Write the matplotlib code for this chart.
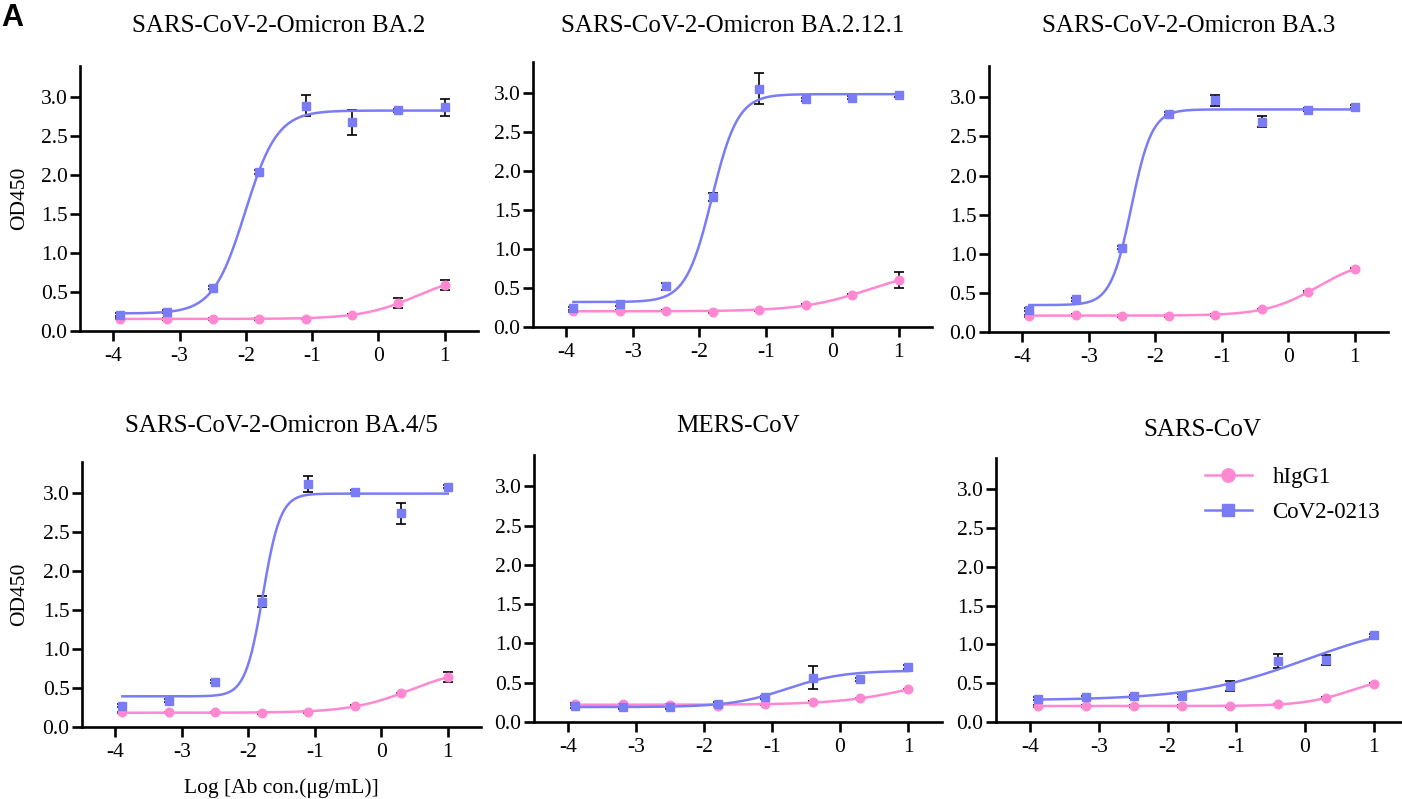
import numpy as np
import matplotlib
matplotlib.use("Agg")
import matplotlib.pyplot as plt

plt.rcParams["font.family"] = ["Liberation Serif", "DejaVu Serif"]
plt.rcParams["axes.unicode_minus"] = False

# log10 antibody concentration (ug/mL), 5-fold dilutions from 10 ug/mL
log_conc = [-3.893, -3.194, -2.495, -1.796, -1.097, -0.398, 0.301, 1.0]

panel_titles = [
    "SARS-CoV-2-Omicron BA.2",
    "SARS-CoV-2-Omicron BA.2.12.1",
    "SARS-CoV-2-Omicron BA.3",
    "SARS-CoV-2-Omicron BA.4/5",
    "MERS-CoV",
    "SARS-CoV",
]

# OD450 means for the CoV2-0213 antibody
cov2_ba2 = [0.21, 0.25, 0.555, 2.04, 2.89, 2.68, 2.83, 2.87]
cov2_ba2121 = [0.243, 0.295, 0.52, 1.67, 3.06, 2.92, 2.94, 2.975]
cov2_ba3 = [0.285, 0.417, 1.08, 2.79, 2.96, 2.69, 2.84, 2.88]
cov2_ba45 = [0.272, 0.34, 0.583, 1.61, 3.12, 3.02, 2.74, 3.085]
cov2_mers = [0.20, 0.19, 0.19, 0.233, 0.317, 0.563, 0.546, 0.70]
cov2_sars = [0.30, 0.32, 0.33, 0.336, 0.46, 0.79, 0.80, 1.115]

# SEM for the CoV2-0213 antibody
cov2_ba2_err = [0.02, 0.02, 0.02, 0.02, 0.135, 0.16, 0.02, 0.11]
cov2_ba2121_err = [0.02, 0.02, 0.05, 0.05, 0.20, 0.02, 0.02, 0.02]
cov2_ba3_err = [0.02, 0.02, 0.02, 0.02, 0.07, 0.065, 0.02, 0.02]
cov2_ba45_err = [0.02, 0.02, 0.02, 0.065, 0.105, 0.02, 0.14, 0.02]
cov2_mers_err = [0.02, 0.02, 0.02, 0.02, 0.02, 0.145, 0.02, 0.02]
cov2_sars_err = [0.02, 0.02, 0.02, 0.02, 0.065, 0.09, 0.065, 0.02]

# OD450 means for the hIgG1 isotype control
higg_ba2 = [0.16, 0.155, 0.155, 0.155, 0.16, 0.21, 0.355, 0.59]
higg_ba2121 = [0.20, 0.21, 0.21, 0.196, 0.213, 0.286, 0.41, 0.60]
higg_ba3 = [0.208, 0.22, 0.208, 0.208, 0.217, 0.289, 0.51, 0.807]
higg_ba45 = [0.187, 0.187, 0.187, 0.18, 0.196, 0.268, 0.43, 0.64]
higg_mers = [0.229, 0.224, 0.22, 0.21, 0.224, 0.254, 0.30, 0.415]
higg_sars = [0.207, 0.207, 0.207, 0.207, 0.202, 0.228, 0.31, 0.495]

# SEM for the hIgG1 isotype control
higg_ba2_err = [0.01, 0.01, 0.01, 0.01, 0.01, 0.01, 0.065, 0.065]
higg_ba2121_err = [0.01, 0.01, 0.01, 0.01, 0.01, 0.01, 0.01, 0.10]
higg_ba3_err = [0.01, 0.01, 0.01, 0.01, 0.01, 0.01, 0.01, 0.01]
higg_ba45_err = [0.01, 0.01, 0.01, 0.01, 0.01, 0.01, 0.01, 0.06]
higg_mers_err = [0.01, 0.01, 0.01, 0.01, 0.01, 0.01, 0.01, 0.01]
higg_sars_err = [0.01, 0.01, 0.01, 0.01, 0.01, 0.01, 0.01, 0.01]

series_names = ["hIgG1", "CoV2-0213"]
x_ticks = [-4, -3, -2, -1, 0, 1]
y_ticks = [0.0, 0.5, 1.0, 1.5, 2.0, 2.5, 3.0]

cov2_means = [cov2_ba2, cov2_ba2121, cov2_ba3, cov2_ba45, cov2_mers, cov2_sars]
cov2_errs = [cov2_ba2_err, cov2_ba2121_err, cov2_ba3_err, cov2_ba45_err,
             cov2_mers_err, cov2_sars_err]
higg_means = [higg_ba2, higg_ba2121, higg_ba3, higg_ba45, higg_mers, higg_sars]
higg_errs = [higg_ba2_err, higg_ba2121_err, higg_ba3_err, higg_ba45_err,
             higg_mers_err, higg_sars_err]

PINK = "#FF88D2"
BLUE = "#7A7CF6"


def fit_4pl(x, y):
    """Least-squares four-parameter logistic fit (grid over EC50/Hill,
    closed form for bottom/top)."""
    x = np.asarray(x, float)
    y = np.asarray(y, float)
    ec = np.arange(-5.0, 2.5, 0.01)
    hill = np.arange(0.4, 4.0, 0.01)
    E, H = np.meshgrid(ec, hill, indexing="ij")
    s = 1.0 / (1.0 + 10.0 ** ((E[..., None] - x) * H[..., None]))
    a = 1.0 - s
    saa = (a * a).sum(-1)
    sab = (a * s).sum(-1)
    sbb = (s * s).sum(-1)
    say = (a * y).sum(-1)
    sby = (s * y).sum(-1)
    det = saa * sbb - sab ** 2
    det = np.where(np.abs(det) < 1e-12, np.nan, det)
    bottom = (sbb * say - sab * sby) / det
    top = (saa * sby - sab * say) / det
    pred = bottom[..., None] * a + top[..., None] * s
    sse = ((pred - y) ** 2).sum(-1)
    sse = np.where((top > 0) & (top < 6) & (bottom > -0.5), sse, np.inf)
    sse = np.nan_to_num(sse, nan=np.inf)
    i, j = np.unravel_index(np.argmin(sse), sse.shape)
    return bottom[i, j], top[i, j], E[i, j], H[i, j]


def logistic(x, bottom, top, ec50, h):
    return bottom + (top - bottom) / (1.0 + 10.0 ** ((ec50 - x) * h))


W, Hpx = 1402, 799
fig = plt.figure(figsize=(W / 100, Hpx / 100), dpi=100)

# axes boxes in pixels: left, right, top, bottom
boxes = [
    (80, 478, 66, 331),
    (533, 932, 62, 327),
    (989, 1388, 66, 332),
    (82, 481, 462, 727),
    (534, 942, 455, 722),
    (996, 1408, 458, 722),
]
title_baselines = [32.5, 32.5, 32.5, 432, 432, 436]

xs = np.asarray(log_conc)
xfine = np.linspace(xs.min(), xs.max(), 300)

for k, (l, r, t, b) in enumerate(boxes):
    ax = fig.add_axes([l / W, 1 - b / Hpx, (r - l) / W, (b - t) / Hpx])
    ax.set_xlim(-4.5, 1.5)
    ax.set_ylim(0, 3.4)
    for sp in ("top", "right"):
        ax.spines[sp].set_visible(False)
    for sp in ("left", "bottom"):
        ax.spines[sp].set_linewidth(1.9)
    ax.tick_params(width=1.9, length=7.5, labelsize=15.5, color="black")
    ax.tick_params(axis="y", pad=1.5)
    ax.tick_params(axis="x", pad=4)
    ax.set_xticks(x_ticks)
    ax.set_xticklabels([str(v) for v in x_ticks])
    ax.set_yticks(y_ticks)
    ax.set_yticklabels([f"{v:.1f}" for v in y_ticks])

    for means, errs, color, marker, ms, name in (
        (higg_means[k], higg_errs[k], PINK, "o", 6.2, series_names[0]),
        (cov2_means[k], cov2_errs[k], BLUE, "s", 6.0, series_names[1]),
    ):
        p = fit_4pl(xs, means)
        ax.errorbar(xs, means, yerr=errs, fmt="none", ecolor="black",
                    elinewidth=1.2, capsize=3.6, capthick=1.2, zorder=2)
        ax.plot(xfine, logistic(xfine, *p), color=color, lw=1.8, zorder=3)
        ax.plot(xs, means, linestyle="none", marker=marker, ms=ms,
                color=color, zorder=4)
        # proxy artist for the legend (line + symbol)
        ax.plot([], [], color=color, lw=1.8, marker=marker, ms=ms,
                label=name)

    fig.text(((l + r) / 2) / W, 1 - title_baselines[k] / Hpx,
             panel_titles[k], ha="center", va="baseline", fontsize=18)

    if k == 5:
        ax.legend(loc="upper left", frameon=False, fontsize=16.5,
                  bbox_to_anchor=(1205 / W, 1 - 467 / Hpx),
                  bbox_transform=fig.transFigure, borderpad=0,
                  borderaxespad=0, handlelength=2.05, handletextpad=0.9,
                  labelspacing=0.6, markerscale=1.55)

# shared axis titles
for yc in (198.5, 594.5):
    fig.text(19.5 / W, 1 - yc / Hpx, "OD450", rotation=90, ha="center",
             va="center", fontsize=15.5)
fig.text(281 / W, 1 - 793 / Hpx, "Log [Ab con.(μg/mL)]", ha="center",
         va="baseline", fontsize=15.5)

# panel letter
fig.text(1 / W, 1 - 26 / Hpx, "A", ha="left", va="baseline",
         fontsize=22, fontweight="bold", family=["Liberation Sans"])

fig.savefig("out.png", dpi=100)
